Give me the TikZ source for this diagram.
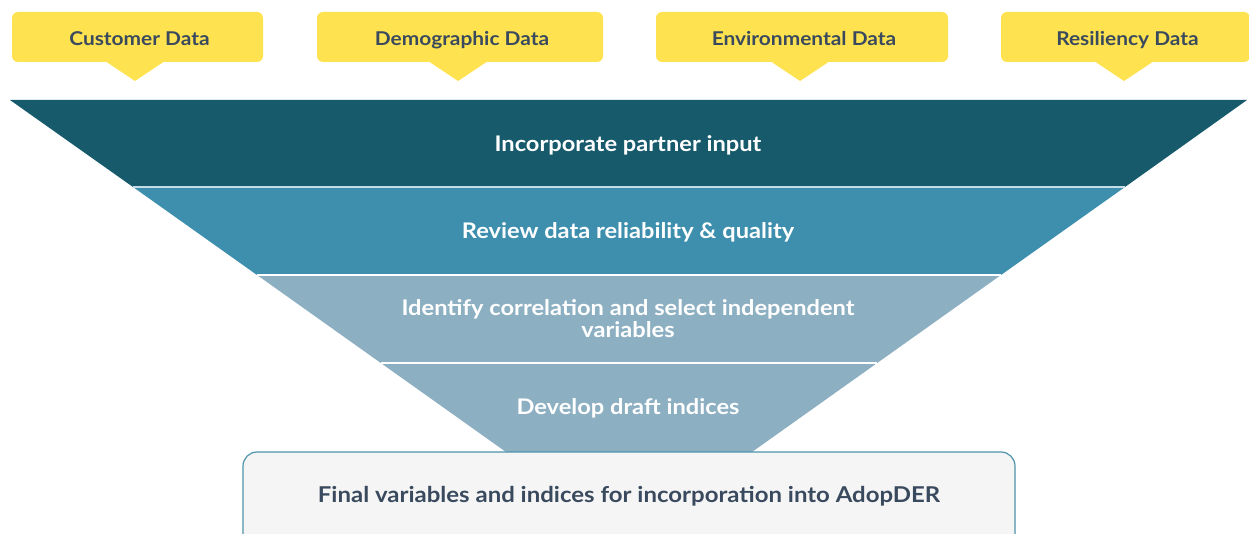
\documentclass[tikz,border=0pt]{standalone}
\usepackage{fontspec}
\setmainfont{Lato}[FakeStretch=1.1]
\definecolor{calloutyellow}{HTML}{FFE24F}
\definecolor{slatetext}{HTML}{3A4A5E}
\definecolor{bandone}{HTML}{165A6C}
\definecolor{bandtwo}{HTML}{3D8FAD}
\definecolor{bandthree}{HTML}{8CAFC2}
\definecolor{boxfill}{HTML}{F5F5F5}
\definecolor{boxline}{HTML}{4E93AB}
\begin{document}
\begin{tikzpicture}[x=1pt,y=-1pt,
  callout/.style={fill=calloutyellow, rounded corners=6pt},
  callouttext/.style={text=slatetext, anchor=base, font=\bfseries\fontsize{19}{22}\selectfont},
  bandtext/.style={text=white, font=\bfseries\fontsize{21.5}{24}\selectfont, align=center},
  sep/.style={white, line width=1.6pt}]
\useasboundingbox (0,0) rectangle (1249,534);

% data source callouts with downward pointers
\foreach \name/\l/\r/\tip/\txt in {cust/12/263/135/Customer Data,
    demo/317/603/458/Demographic Data,
    env/656/948/800/Environmental Data,
    res/1001/1250/1124/Resiliency Data}{
  \fill[callout] (\l,12) rectangle (\r,62);
  \fill[calloutyellow] (\tip-30,61) -- (\tip,81) -- (\tip+30,61) -- cycle;
  \node[callouttext] (\name) at ({(\l+\r)/2+2},46) {\txt};
}

% funnel bands
\fill[bandone]   (10,100) -- (1247,100) -- (1125,187) -- (133,187) -- cycle;
\fill[bandtwo]   (133,187) -- (1125,187) -- (1001,275) -- (257,275) -- cycle;
\fill[bandthree] (257,275) -- (1001,275) -- (752,452) -- (506,452) -- cycle;
\draw[sep, draw=white!70!bandtwo] (133,187) -- (1125,187);
\draw[sep] (257,275) -- (1001,275);
\draw[sep] (381,363) -- (877,363);

\node[bandtext] (partner) at (628,145) {Incorporate partner input};
\node[bandtext] (quality) at (628,232) {Review data reliability \& quality};
\node[bandtext] (correl) at (628,319) {Identify correlation and select independent\\[-2pt]variables};
\node[bandtext] (draft) at (628,408) {Develop draft indices};

% outcome box
\draw[fill=boxfill, draw=boxline, line width=1.2pt, rounded corners=14pt]
  (243,452) rectangle (1015,560);
\node[text=slatetext, font=\bfseries\fontsize{21.8}{24}\selectfont] (final) at (629,496)
  {Final variables and indices for incorporation into AdopDER};
\end{tikzpicture}
\end{document}
